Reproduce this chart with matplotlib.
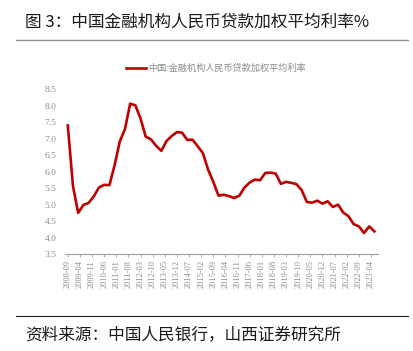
import numpy as np
import matplotlib
matplotlib.use("Agg")
import matplotlib.pyplot as plt
from matplotlib.lines import Line2D

plt.rcParams['font.family'] = ['Noto Sans CJK SC', 'DejaVu Sans']

# ----------------------------
# Datos: tasa media ponderada de préstamos (trimestral, 2008-09 .. 2023-06)
# ----------------------------
start_year, start_month = 2008, 9
rates = [7.40, 5.56, 4.75, 4.99, 5.05, 5.25, 5.52, 5.60, 5.59, 6.19,
         6.91, 7.29, 8.06, 8.01, 7.61, 7.06, 6.98, 6.78, 6.63, 6.93,
         7.08, 7.20, 7.18, 6.96, 6.97, 6.77, 6.56, 6.06, 5.69, 5.27,
         5.30, 5.26, 5.20, 5.27, 5.52, 5.67, 5.76, 5.74, 5.96, 5.97,
         5.94, 5.63, 5.69, 5.66, 5.62, 5.44, 5.08, 5.06, 5.12, 5.03,
         5.10, 4.93, 5.00, 4.76, 4.65, 4.41, 4.34, 4.14, 4.34, 4.19]
months = np.arange(len(rates)) * 3   # meses desde 2008-09

tick_months = np.arange(0, 176, 7)
tick_labels = []
for m in tick_months:
    y = start_year + (start_month - 1 + m) // 12
    mm = (start_month - 1 + m) % 12 + 1
    tick_labels.append(f"{y}-{mm:02d}")

legend_label = "中国:金融机构人民币贷款加权平均利率"
title = "图 3：中国金融机构人民币贷款加权平均利率%"
source = "资料来源：中国人民银行，山西证券研究所"

# ----------------------------
# Figura
# ----------------------------
fig = plt.figure(figsize=(4.13, 3.51), dpi=100)
ax = fig.add_axes([0.157, 0.276, 0.758, 0.470])

ax.plot(months, rates, color="#C00000", lw=1.9, solid_joinstyle="round")

ax.set_xlim(-1.7, 179)
ax.set_ylim(3.5, 8.5)
ax.set_yticks(np.arange(3.5, 8.51, 0.5))
ax.set_yticklabels([f"{v:.1f}" for v in np.arange(3.5, 8.51, 0.5)],
                   family="Liberation Serif", fontsize=6.8, color="#8c8c8c")
ax.set_xticks(tick_months)
ax.set_xticklabels(tick_labels, rotation=90, family="Liberation Serif",
                   fontsize=6.0, color="#8c8c8c")
ax.tick_params(axis="y", length=0, pad=6)
ax.tick_params(axis="x", length=2.5, width=0.6, color="#A0A0A0", pad=2)
for s in ["top", "right", "left"]:
    ax.spines[s].set_visible(False)
ax.spines["bottom"].set_color("#A0A0A0")
ax.spines["bottom"].set_linewidth(0.8)

# leyenda
fig.add_artist(Line2D([126 / 413, 146 / 413], [1 - 68 / 351] * 2,
                      color="#C00000", lw=1.9))
fig.text(148 / 413, 1 - 68 / 351, legend_label, fontsize=6.6,
         color="#8c8c8c", va="center", ha="left")

# título y fuente
fig.text(25 / 413, 1 - 22 / 351, title, fontsize=12, va="center", ha="left",
         color="#1a1a1a")
fig.add_artist(Line2D([16 / 413, 408 / 413], [1 - 40 / 351] * 2,
                      color="#909090", lw=1.0))
fig.add_artist(Line2D([16 / 413, 408 / 413], [1 - 316 / 351] * 2,
                      color="#202020", lw=0.8))
fig.text(25 / 413, 1 - 335 / 351, source, fontsize=12, va="center", ha="left",
         color="#1a1a1a")

fig.savefig("out.png", dpi=100)
